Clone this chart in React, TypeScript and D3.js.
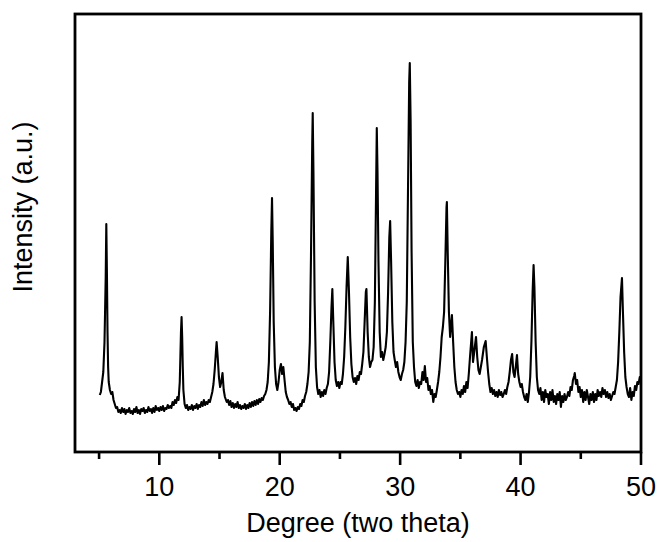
import React from "react";
import * as d3 from "d3";

// [2θ (degree), intensity (a.u.)]
const xrdPattern: [number, number][] = [
  [5.06, 57], [5.15, 60], [5.25, 70], [5.35, 80], [5.45, 110], [5.5, 142], [5.55, 175], [5.6, 228],
  [5.65, 180], [5.7, 120], [5.75, 85], [5.8, 70], [5.9, 62], [6.0, 58], [6.1, 60], [6.2, 52],
  [6.3, 48], [6.4, 44], [6.5, 45], [6.6, 40], [6.7, 42], [6.8, 39], [6.9, 44], [7.0, 40],
  [7.1, 43], [7.2, 38], [7.3, 42], [7.4, 40], [7.5, 44], [7.6, 39], [7.7, 41], [7.8, 38],
  [7.9, 43], [8.0, 40], [8.1, 45], [8.2, 39], [8.3, 42], [8.4, 38], [8.5, 43], [8.6, 41],
  [8.7, 44], [8.8, 39], [8.9, 42], [9.0, 40], [9.1, 45], [9.2, 41], [9.3, 43], [9.4, 39],
  [9.5, 44], [9.6, 40], [9.7, 46], [9.8, 42], [9.9, 44], [10.0, 41], [10.1, 45], [10.2, 42],
  [10.3, 46], [10.4, 41], [10.5, 44], [10.6, 43], [10.7, 47], [10.8, 44], [10.9, 46], [11.0, 44],
  [11.1, 50], [11.2, 47], [11.3, 52], [11.4, 49], [11.5, 55], [11.6, 52], [11.7, 70], [11.75, 95],
  [11.8, 120], [11.85, 135], [11.9, 115], [11.95, 85], [12.0, 62], [12.1, 48], [12.2, 44], [12.3, 47],
  [12.4, 42], [12.5, 45], [12.6, 43], [12.7, 47], [12.8, 42], [12.9, 46], [13.0, 44], [13.1, 48],
  [13.2, 43], [13.3, 47], [13.4, 45], [13.5, 50], [13.6, 46], [13.7, 52], [13.8, 47], [13.9, 50],
  [14.0, 48], [14.1, 52], [14.2, 50], [14.3, 55], [14.4, 60], [14.5, 68], [14.6, 82], [14.7, 100],
  [14.76, 110], [14.85, 95], [14.95, 75], [15.05, 65], [15.15, 70], [15.25, 79], [15.35, 62], [15.45, 55],
  [15.6, 50], [15.7, 52], [15.8, 47], [15.9, 51], [16.0, 45], [16.1, 49], [16.2, 44], [16.3, 48],
  [16.4, 45], [16.5, 50], [16.6, 44], [16.7, 47], [16.8, 43], [16.9, 46], [17.0, 44], [17.1, 48],
  [17.2, 43], [17.3, 47], [17.4, 44], [17.5, 49], [17.6, 45], [17.7, 50], [17.8, 46], [17.9, 51],
  [18.0, 47], [18.1, 52], [18.2, 48], [18.3, 53], [18.4, 50], [18.5, 54], [18.6, 52], [18.7, 56],
  [18.8, 58], [18.9, 62], [19.0, 70], [19.1, 90], [19.2, 140], [19.3, 220], [19.36, 254], [19.42, 210],
  [19.5, 130], [19.6, 85], [19.7, 68], [19.8, 62], [19.9, 70], [20.0, 82], [20.1, 88], [20.2, 78],
  [20.3, 85], [20.4, 72], [20.5, 60], [20.6, 55], [20.7, 52], [20.8, 48], [20.9, 50], [21.0, 45],
  [21.1, 48], [21.2, 42], [21.3, 44], [21.4, 41], [21.5, 45], [21.6, 43], [21.7, 48], [21.8, 46],
  [21.9, 52], [22.0, 50], [22.1, 56], [22.2, 60], [22.3, 68], [22.4, 80], [22.5, 110], [22.6, 200],
  [22.7, 310], [22.74, 339], [22.8, 280], [22.9, 150], [23.0, 85], [23.1, 65], [23.2, 58], [23.3, 62],
  [23.4, 55], [23.5, 60], [23.6, 56], [23.7, 62], [23.8, 58], [23.9, 64], [24.0, 68], [24.1, 80],
  [24.2, 110], [24.3, 145], [24.37, 163], [24.45, 130], [24.55, 90], [24.65, 72], [24.75, 66], [24.85, 70],
  [24.95, 64], [25.05, 70], [25.15, 68], [25.25, 78], [25.35, 95], [25.45, 125], [25.55, 165], [25.65, 195],
  [25.75, 160], [25.85, 115], [25.95, 88], [26.05, 75], [26.15, 70], [26.25, 74], [26.35, 68], [26.45, 76],
  [26.55, 72], [26.65, 80], [26.75, 78], [26.85, 88], [26.95, 100], [27.05, 130], [27.15, 160], [27.2, 163],
  [27.3, 120], [27.4, 95], [27.5, 85], [27.6, 90], [27.7, 92], [27.8, 105], [27.9, 150], [28.0, 260],
  [28.06, 324], [28.12, 280], [28.2, 190], [28.3, 120], [28.4, 95], [28.5, 100], [28.6, 92], [28.7, 98],
  [28.8, 105], [28.9, 120], [29.0, 160], [29.1, 215], [29.17, 231], [29.25, 190], [29.35, 130], [29.45, 100],
  [29.55, 92], [29.65, 85], [29.75, 90], [29.85, 80], [29.95, 75], [30.05, 72], [30.15, 78], [30.25, 82],
  [30.35, 90], [30.45, 110], [30.55, 150], [30.65, 260], [30.75, 370], [30.8, 389], [30.87, 330], [30.95, 200],
  [31.05, 110], [31.15, 85], [31.25, 70], [31.35, 66], [31.45, 72], [31.55, 64], [31.65, 70], [31.75, 68],
  [31.85, 80], [31.95, 72], [32.05, 86], [32.15, 70], [32.25, 74], [32.35, 62], [32.45, 66], [32.55, 58],
  [32.65, 62], [32.75, 50], [32.85, 58], [32.95, 55], [33.05, 62], [33.15, 70], [33.25, 80], [33.35, 95],
  [33.45, 115], [33.55, 125], [33.65, 140], [33.75, 190], [33.85, 245], [33.88, 250], [33.95, 200], [34.05, 140],
  [34.15, 115], [34.25, 130], [34.3, 137], [34.4, 110], [34.5, 85], [34.6, 70], [34.7, 62], [34.8, 58],
  [34.9, 60], [35.0, 55], [35.1, 62], [35.2, 58], [35.3, 66], [35.4, 60], [35.5, 70], [35.6, 64],
  [35.7, 78], [35.8, 95], [35.96, 120], [36.05, 90], [36.15, 100], [36.3, 115], [36.4, 95], [36.5, 82],
  [36.6, 78], [36.7, 85], [36.8, 92], [36.95, 105], [37.1, 111], [37.2, 95], [37.3, 80], [37.4, 68],
  [37.5, 60], [37.6, 64], [37.7, 58], [37.8, 62], [37.9, 56], [38.0, 60], [38.1, 55], [38.2, 62],
  [38.3, 57], [38.4, 60], [38.5, 55], [38.6, 58], [38.7, 62], [38.8, 58], [38.9, 65], [39.0, 70],
  [39.1, 80], [39.2, 92], [39.3, 98], [39.4, 80], [39.5, 75], [39.6, 85], [39.7, 97], [39.8, 78],
  [39.9, 70], [40.0, 65], [40.1, 68], [40.2, 60], [40.3, 55], [40.4, 52], [40.5, 58], [40.6, 50],
  [40.7, 60], [40.8, 75], [40.9, 110], [41.0, 160], [41.08, 187], [41.15, 165], [41.25, 110], [41.35, 75],
  [41.45, 62], [41.55, 58], [41.65, 64], [41.75, 52], [41.85, 60], [41.95, 50], [42.05, 62], [42.15, 55],
  [42.25, 58], [42.35, 48], [42.45, 60], [42.55, 52], [42.65, 62], [42.75, 50], [42.85, 56], [42.95, 48],
  [43.05, 58], [43.15, 52], [43.25, 60], [43.35, 45], [43.45, 56], [43.55, 50], [43.65, 58], [43.75, 52],
  [43.85, 55], [43.95, 60], [44.05, 56], [44.15, 65], [44.25, 62], [44.35, 72], [44.45, 76], [44.5, 79],
  [44.6, 68], [44.7, 72], [44.8, 60], [44.9, 65], [45.0, 55], [45.1, 62], [45.2, 50], [45.3, 60],
  [45.4, 52], [45.5, 62], [45.6, 55], [45.7, 48], [45.8, 58], [45.9, 52], [46.0, 60], [46.1, 50],
  [46.2, 58], [46.3, 52], [46.4, 62], [46.5, 56], [46.6, 60], [46.7, 55], [46.8, 64], [46.9, 58],
  [47.0, 62], [47.1, 55], [47.2, 60], [47.3, 54], [47.4, 58], [47.5, 52], [47.6, 56], [47.7, 60],
  [47.8, 58], [47.9, 65], [48.0, 72], [48.1, 90], [48.2, 120], [48.3, 155], [48.42, 174], [48.5, 140],
  [48.6, 100], [48.7, 75], [48.8, 65], [48.9, 58], [49.0, 55], [49.1, 64], [49.2, 52], [49.3, 60],
  [49.4, 56], [49.5, 66], [49.6, 62], [49.7, 70], [49.8, 68], [49.9, 75], [50.0, 75],
];

const xDomain: [number, number] = [3, 50];
const yDomain: [number, number] = [0, 438];
const majorTicks = [10, 20, 30, 40, 50];
const minorTicks = [5, 15, 25, 35, 45];
const xTitle = "Degree (two theta)";
const yTitle = "Intensity (a.u.)";

export default function App() {
  const W = 659;
  const H = 542;
  const left = 75;
  const right = 641;
  const top = 14;
  const bottom = 452;

  const x = d3.scaleLinear().domain(xDomain).range([left, right]);
  const y = d3.scaleLinear().domain(yDomain).range([bottom, top]);

  const line = d3
    .line<[number, number]>()
    .x((d) => x(d[0]))
    .y((d) => y(d[1]));

  const font = "Liberation Sans, Arial, sans-serif";

  return (
    <div style={{ position: "fixed", left: 0, top: 0, width: W, height: H, background: "#fff" }}>
      <svg width={W} height={H} style={{ display: "block" }}>
        <rect x={0} y={0} width={W} height={H} fill="#fff" />
        <path d={line(xrdPattern) || ""} fill="none" stroke="#000" strokeWidth={2.1} strokeLinejoin="round" />
        <rect x={left} y={top} width={right - left} height={bottom - top} fill="none" stroke="#000" strokeWidth={2.8} />
        {majorTicks.map((t) => (
          <g key={"M" + t}>
            <line x1={x(t)} x2={x(t)} y1={bottom} y2={bottom + 13} stroke="#000" strokeWidth={2.6} />
            <text
              x={x(t)}
              y={bottom + 44}
              textAnchor="middle"
              fontFamily={font}
              fontSize={27}
              fill="#000"
            >
              {t}
            </text>
          </g>
        ))}
        {minorTicks.map((t) => (
          <line key={"m" + t} x1={x(t)} x2={x(t)} y1={bottom} y2={bottom + 7} stroke="#000" strokeWidth={2.6} />
        ))}
        <text x={(left + right) / 2} y={532} textAnchor="middle" fontFamily={font} fontSize={27} fill="#000">
          {xTitle}
        </text>
        <text
          transform={`translate(32, 207) rotate(-90)`}
          textAnchor="middle"
          fontFamily={font}
          fontSize={27}
          fill="#000"
        >
          {yTitle}
        </text>
      </svg>
    </div>
  );
}
